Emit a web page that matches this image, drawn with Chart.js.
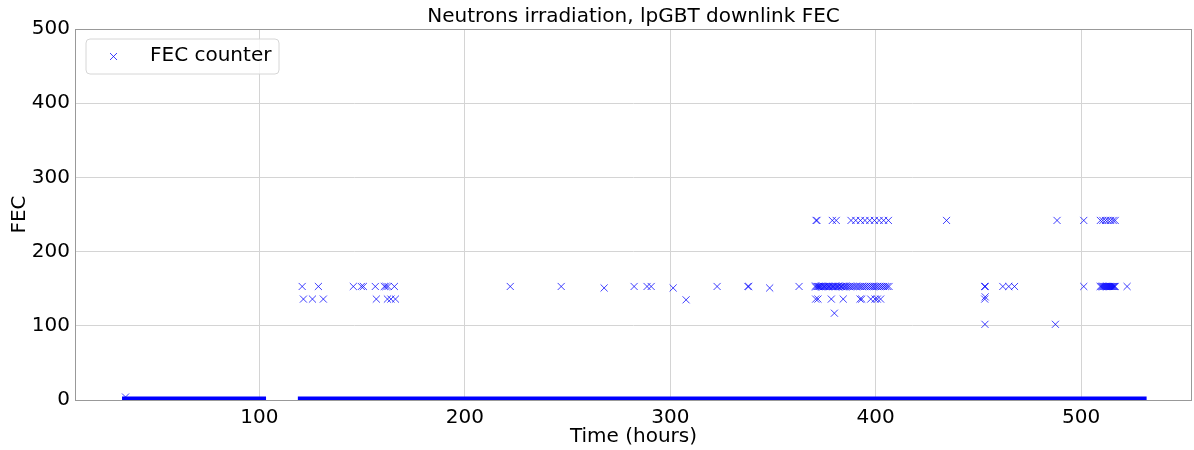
<!DOCTYPE html>
<html>
<head>
<meta charset="utf-8">
<script src="https://cdn.jsdelivr.net/npm/chart.js@4"></script>
<style>
  html, body { margin: 0; padding: 0; background: #fff; overflow: hidden; width: 1194px; height: 450px; }
  canvas { display: block; }
</style>
</head>
<body>
<canvas id="fecChart" width="1198" height="450"></canvas>
<script>
// Runs of consecutive zero readings (hours), drawn as a solid band on y = 0
const zeroRunStart = [34.8, 120.4];
const zeroRunEnd = [101.5, 530.2];

// Non-zero FEC counter readings: time (hours) and count
const fecTime = [
  34.8,
  120.8, 128.7, 145.7, 149.6, 150.6, 156.4, 160.8, 161.6, 162.6, 165.7,
  121.4, 125.8, 131.1, 156.9, 162.3, 164.0, 166.2,
  222.1, 246.9, 267.8, 282.4, 288.7, 290.7, 301.4, 307.7, 322.8, 337.8, 338.2, 348.4, 362.7,
  371.0, 371.4, 378.9, 380.8, 388.0, 390.3, 392.6, 394.8, 397.1, 399.4, 401.7, 403.9, 406.2,
  370.5, 371.0, 371.6, 372.1, 372.7, 373.3, 373.8, 374.5, 375.1, 375.8, 376.3, 377.0,
  377.6, 378.3, 378.9, 379.5, 380.2, 380.8, 381.5, 382.0, 382.8, 383.4, 384.1, 384.9,
  385.6, 386.4, 387.2, 388.1, 389.0, 390.0, 390.9, 391.9, 392.8, 393.7, 394.7, 395.6,
  396.6, 397.5, 398.4, 399.2, 400.1, 401.0, 402.0, 402.9, 403.8, 404.7, 405.6, 406.5,
  370.8, 371.9, 378.4, 384.2, 392.4, 393.2, 397.6, 399.7, 400.8, 402.4,
  379.9,
  434.5, 488.3, 501.3, 509.4, 510.6, 511.9, 513.1, 514.4, 515.6, 516.6,
  453.0, 453.4, 461.9, 464.8, 467.6, 501.3,
  509.3, 509.8, 510.3, 510.8, 511.3, 511.8, 512.3, 512.8, 513.3, 513.8, 514.3, 514.8,
  515.3, 515.8, 516.3, 516.6, 522.4,
  453.1, 453.3,
  453.2, 487.5
];
const fecCount = [
  4,
  153, 153, 153, 153, 153, 153, 153, 153, 153, 153,
  136, 136, 136, 136, 136, 136, 136,
  153, 153, 151, 153, 153, 153, 151, 135, 153, 153, 153, 151, 153,
  242, 242, 242, 242, 242, 242, 242, 242, 242, 242, 242, 242, 242,
  153, 153, 153, 153, 153, 153, 153, 153, 153, 153, 153, 153,
  153, 153, 153, 153, 153, 153, 153, 153, 153, 153, 153, 153,
  153, 153, 153, 153, 153, 153, 153, 153, 153, 153, 153, 153,
  153, 153, 153, 153, 153, 153, 153, 153, 153, 153, 153, 153,
  136, 136, 136, 136, 136, 136, 136, 136, 136, 136,
  117,
  242, 242, 242, 242, 242, 242, 242, 242, 242, 242,
  153, 153, 153, 153, 153, 153,
  153, 153, 153, 153, 153, 153, 153, 153, 153, 153, 153, 153,
  153, 153, 153, 153, 153,
  136, 139,
  102, 102
];

const xTicks = [100, 200, 300, 400, 500];
const yTicks = [0, 100, 200, 300, 400, 500];

const fontFamily = "'DejaVu Sans', sans-serif";
const blue = "#0000ff";
const markerBlue = "rgba(0, 0, 255, 0.75)";

// zero band: one line dataset per run
let zeroSets = [];
for (let i = 0; i < zeroRunStart.length; i++) {
  zeroSets.push({
    type: "line",
    label: "zero",
    data: [{x: zeroRunStart[i], y: 0}, {x: zeroRunEnd[i], y: 0}],
    borderColor: blue,
    borderWidth: 7,
    borderCapStyle: "square",
    pointRadius: 0,
    clip: 0,
  });
}

let points = [];
for (let i = 0; i < fecTime.length; i++) {
  points.push({x: fecTime[i], y: fecCount[i]});
}

// frame + legend box drawn on top
const framePlugin = {
  id: "framePlugin",
  afterDraw(chart) {
    const {ctx, chartArea: a} = chart;
    ctx.save();
    ctx.strokeStyle = "#999";
    ctx.lineWidth = 1;
    ctx.strokeRect(a.left + 0.5, a.top + 0.5, a.right - a.left - 1, a.bottom - a.top);

    // legend
    const lx = 86, ly = 39, lw = 193, lh = 35, r = 4;
    ctx.beginPath();
    ctx.moveTo(lx + r, ly);
    ctx.arcTo(lx + lw, ly, lx + lw, ly + lh, r);
    ctx.arcTo(lx + lw, ly + lh, lx, ly + lh, r);
    ctx.arcTo(lx, ly + lh, lx, ly, r);
    ctx.arcTo(lx, ly, lx + lw, ly, r);
    ctx.closePath();
    ctx.fillStyle = "rgba(255,255,255,0.8)";
    ctx.fill();
    ctx.strokeStyle = "#d6d6d6";
    ctx.stroke();

    ctx.strokeStyle = markerBlue;
    ctx.lineWidth = 1;
    ctx.beginPath();
    ctx.moveTo(110, 53); ctx.lineTo(117, 60);
    ctx.moveTo(117, 53); ctx.lineTo(110, 60);
    ctx.stroke();

    ctx.fillStyle = "#000";
    ctx.font = "20px " + fontFamily;
    ctx.textBaseline = "middle";
    ctx.textAlign = "left";
    ctx.fillText("FEC counter", 150, 56);
    ctx.restore();
  }
};

new Chart(document.getElementById("fecChart"), {
  type: "scatter",
  data: {
    datasets: [
      ...zeroSets,
      {
        label: "FEC counter",
        data: points,
        pointStyle: "crossRot",
        pointRadius: 5,
        pointHoverRadius: 5,
        borderColor: markerBlue,
        backgroundColor: markerBlue,
        borderWidth: 1,
        clip: 0,
      },
    ],
  },
  options: {
    responsive: false,
    animation: false,
    devicePixelRatio: 1,
    layout: {
      padding: {top: 0, right: 1, bottom: 0, left: 0},
    },
    scales: {
      x: {
        type: "linear",
        min: 10.2,
        max: 554,
        afterBuildTicks: (scale) => { scale.ticks = xTicks.map(v => ({value: v})); },
        afterFit: (scale) => {
          scale.height = 50;
          scale.paddingLeft = 0;
          scale.paddingRight = 0;
        },
        border: {display: false},
        grid: {color: "#d4d4d4", drawTicks: false},
        ticks: {color: "#000", font: {family: fontFamily, size: 20}, padding: 6, maxRotation: 0},
        title: {display: true, text: "Time (hours)", color: "#000",
                font: {family: fontFamily, size: 20}, padding: {top: 0, bottom: 1}},
      },
      y: {
        min: 0,
        max: 500,
        afterBuildTicks: (scale) => { scale.ticks = yTicks.map(v => ({value: v})); },
        afterFit: (scale) => {
          scale.width = 75;
          scale.paddingTop = 0;
          scale.paddingBottom = 0;
        },
        border: {display: false},
        grid: {color: "#d4d4d4", drawTicks: false},
        ticks: {color: "#000", font: {family: fontFamily, size: 20}, padding: 5},
        title: {display: true, text: "FEC", color: "#000",
                font: {family: fontFamily, size: 20}, padding: {top: 8, bottom: 0}},
      },
    },
    plugins: {
      legend: {display: false},
      tooltip: {enabled: false},
      title: {
        display: true,
        fullSize: false,
        text: "Neutrons irradiation, lpGBT downlink FEC",
        color: "#000",
        font: {family: fontFamily, size: 20, weight: "normal"},
        padding: {top: 5, bottom: 0},
      },
    },
  },
  plugins: [framePlugin],
});
</script>
</body>
</html>
